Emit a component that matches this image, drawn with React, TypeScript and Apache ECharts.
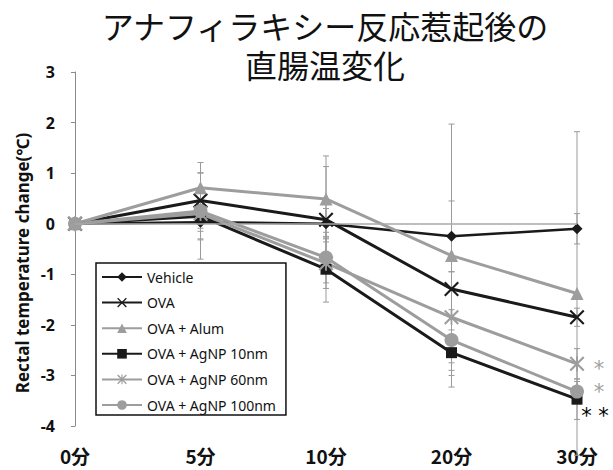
import React, { useEffect, useRef } from "react";
import * as echarts from "echarts";

const categories = ["0分", "5分", "10分", "20分", "30分"];
const yTicks = [-4, -3, -2, -1, 0, 1, 2, 3];

const seriesNames = [
  "Vehicle",
  "OVA",
  "OVA + Alum",
  "OVA + AgNP 10nm",
  "OVA + AgNP 60nm",
  "OVA + AgNP 100nm",
];

const vehicle = [0, 0.03, 0.0, -0.25, -0.1];
const ova = [0, 0.46, 0.08, -1.29, -1.85];
const alum = [0, 0.71, 0.49, -0.63, -1.38];
const agnp10 = [0, 0.15, -0.9, -2.55, -3.47];
const agnp60 = [0, 0.2, -0.78, -1.85, -2.77];
const agnp100 = [0, 0.25, -0.67, -2.3, -3.32];

const vehicleErr = [0, 0.35, 0.3, 0.7, 0.3];
const ovaErr = [0, 0.55, 1.05, 0.6, 0.18];
const alumErr = [0, 0.5, 0.85, 2.6, 3.2];
const agnp10Err = [0, 0.85, 0.65, 0.45, 0.4];
const agnp60Err = [0, 0.5, 0.5, 0.9, 0.3];
const agnp100Err = [0, 0.4, 0.5, 0.6, 0.2];

const BLACK = "#1a1a1a";
const GRAY = "#9d9d9d";

const X_PATH =
  "path://M0,1 L1,0 L5,4 L9,0 L10,1 L6,5 L10,9 L9,10 L5,6 L1,10 L0,9 L4,5 Z";
const AST_PATH =
  "path://M0,1 L1,0 L5,4 L9,0 L10,1 L6,5 L10,9 L9,10 L5,6 L1,10 L0,9 L4,5 Z M4.4,0 L5.6,0 L5.6,10 L4.4,10 Z";

export default function App() {
  const ref = useRef<HTMLDivElement>(null);

  useEffect(() => {
    document.body.style.margin = "0";
    if (!ref.current) return;
    const chart = echarts.init(ref.current, null, { renderer: "svg" });

    const values = [vehicle, ova, alum, agnp10, agnp60, agnp100];
    const errs = [vehicleErr, ovaErr, alumErr, agnp10Err, agnp60Err, agnp100Err];
    const errData: number[][] = [];
    values.forEach((arr, s) => {
      arr.forEach((v, i) => {
        if (errs[s][i] > 0) errData.push([i, v - errs[s][i], v + errs[s][i]]);
      });
    });

    const styles = [
      { color: BLACK, symbol: "diamond", size: 11, width: 2.5 },
      { color: BLACK, symbol: X_PATH, size: 15, width: 3 },
      { color: GRAY, symbol: "triangle", size: 13, width: 3 },
      { color: BLACK, symbol: "rect", size: 11, width: 3 },
      { color: GRAY, symbol: AST_PATH, size: 15, width: 3 },
      { color: GRAY, symbol: "circle", size: 14, width: 3 },
    ];

    const lineSeries = seriesNames.map((name, s) => ({
      name,
      type: "line",
      data: values[s],
      symbol: styles[s].symbol,
      symbolSize: styles[s].size,
      showAllSymbol: true,
      z: 3,
      lineStyle: { color: styles[s].color, width: styles[s].width },
      itemStyle: { color: styles[s].color },
      ...(s === 0
        ? {
            markLine: {
              silent: true,
              symbol: "none",
              label: { show: false },
              lineStyle: { color: "#a8a8a8", width: 1.5, type: "solid" },
              data: [{ yAxis: 0 }],
            },
          }
        : {}),
    }));

    const titleFont = {
      fontSize: 32,
      fontWeight: "normal",
      fontFamily: "Noto Sans CJK JP",
      color: "#111",
    };

    chart.setOption({
      animation: false,
      backgroundColor: "#ffffff",
      title: {
        text: "アナフィラキシー反応惹起後の",
        subtext: "直腸温変化",
        left: 325,
        top: 8,
        textAlign: "center",
        itemGap: 5,
        padding: 0,
        textStyle: { ...titleFont, lineHeight: 34 },
        subtextStyle: { ...titleFont, lineHeight: 34 },
      },
      grid: { left: 75, right: 36, top: 72, bottom: 44 },
      legend: {
        orient: "vertical",
        left: 96,
        top: 263,
        data: seriesNames,
        itemWidth: 40,
        itemHeight: 12,
        itemGap: 11.6,
        padding: [7, 10, 3, 5],
        borderColor: "#111",
        borderWidth: 1.5,
        backgroundColor: "#fff",
        textStyle: { fontSize: 14, fontFamily: "Noto Sans", color: "#111" },
      },
      xAxis: {
        type: "category",
        data: categories,
        boundaryGap: false,
        axisLine: { show: false },
        axisTick: { show: false },
        splitLine: { show: false },
        axisLabel: {
          margin: 20,
          fontSize: 19,
          fontWeight: "bold",
          fontFamily: "Noto Sans CJK JP",
          color: "#111",
        },
      },
      yAxis: {
        type: "value",
        min: yTicks[0],
        max: yTicks[yTicks.length - 1],
        interval: 1,
        splitLine: { show: false },
        axisLine: { show: true, lineStyle: { color: "#8a8a8a", width: 1 } },
        axisTick: { show: true, length: 4, lineStyle: { color: "#8a8a8a" } },
        axisLabel: {
          margin: 20,
          fontSize: 16,
          fontWeight: "bold",
          fontFamily: "Noto Sans",
          color: "#111",
        },
      },
      graphic: [
        {
          type: "text",
          x: 22,
          y: 263,
          rotation: Math.PI / 2,
          style: {
            text: "Rectal temperature change(℃)",
            fontSize: 17,
            fontWeight: "bold",
            fontFamily: "Noto Sans",
            fill: "#111",
            textAlign: "center",
            textVerticalAlign: "middle",
          },
        },
        {
          type: "text",
          x: 599,
          y: 369,
          style: {
            text: "*",
            fontSize: 21,
            lineHeight: 14,
            fontFamily: "DejaVu Sans",
            fill: "#a0a0a0",
            textAlign: "center",
            textVerticalAlign: "middle",
          },
        },
        {
          type: "text",
          x: 599,
          y: 392,
          style: {
            text: "*",
            fontSize: 21,
            lineHeight: 14,
            fontFamily: "DejaVu Sans",
            fill: "#a0a0a0",
            textAlign: "center",
            textVerticalAlign: "middle",
          },
        },
        {
          type: "text",
          x: 595,
          y: 416,
          style: {
            text: "* *",
            fontSize: 21,
            lineHeight: 14,
            fontFamily: "DejaVu Sans",
            fill: "#000000",
            textAlign: "center",
            textVerticalAlign: "middle",
          },
        },
      ],
      series: [
        {
          name: "errors",
          type: "custom",
          z: 1,
          silent: true,
          data: errData,
          encode: { x: 0, y: [1, 2] },
          renderItem: (params: any, api: any) => {
            const xi = api.value(0);
            const lo = api.coord([xi, api.value(1)]);
            const hi = api.coord([xi, api.value(2)]);
            const st = { stroke: "#9a9a9a", lineWidth: 1 };
            return {
              type: "group",
              children: [
                { type: "line", shape: { x1: lo[0], y1: lo[1], x2: hi[0], y2: hi[1] }, style: st },
                { type: "line", shape: { x1: lo[0] - 3, y1: lo[1], x2: lo[0] + 3, y2: lo[1] }, style: st },
                { type: "line", shape: { x1: hi[0] - 3, y1: hi[1], x2: hi[0] + 3, y2: hi[1] }, style: st },
              ],
            };
          },
        },
        ...lineSeries,
      ],
    });

    return () => chart.dispose();
  }, []);

  return <div ref={ref} style={{ width: 613, height: 470 }} />;
}
